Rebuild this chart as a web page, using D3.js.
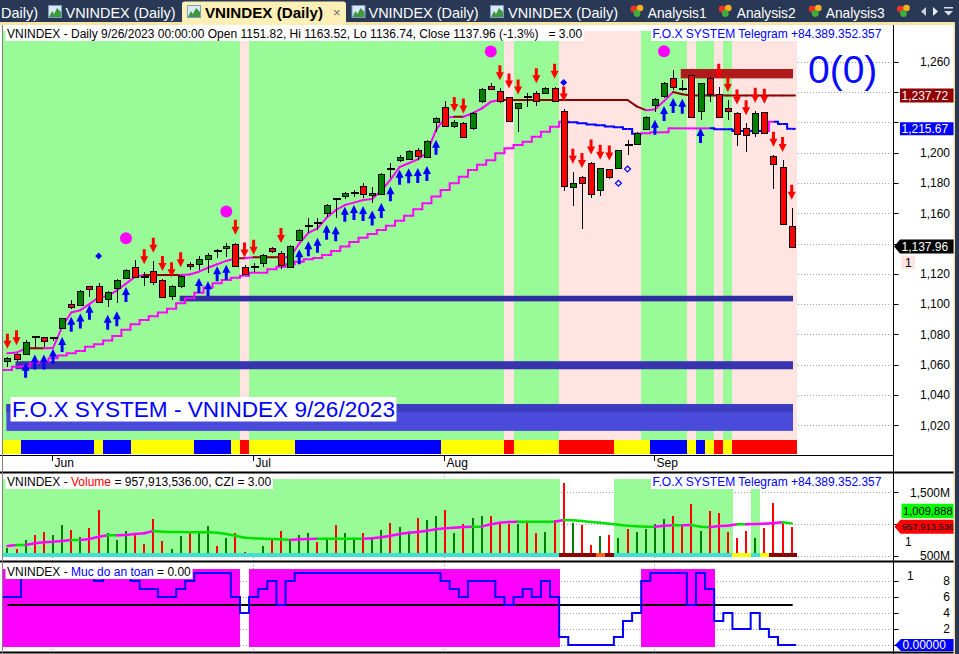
<!DOCTYPE html>
<html>
<head>
<meta charset="utf-8">
<script src="https://cdn.jsdelivr.net/npm/d3@7"></script>
<style>
html,body{margin:0;padding:0;background:#fff;overflow:hidden}
svg{display:block;font-family:"Liberation Sans",Arial,Helvetica,sans-serif}
text{white-space:pre}
</style>
</head>
<body>
<svg id="chart" width="959" height="654"></svg>
<script>
// ================= DATA =================
const dates = ["2023-05-25","2023-05-26","2023-05-29","2023-05-30","2023-05-31",
"2023-06-01","2023-06-02","2023-06-05","2023-06-06","2023-06-07","2023-06-08","2023-06-09","2023-06-12","2023-06-13","2023-06-14","2023-06-15","2023-06-16","2023-06-19","2023-06-20","2023-06-21","2023-06-22","2023-06-23","2023-06-26","2023-06-27","2023-06-28","2023-06-29","2023-06-30",
"2023-07-03","2023-07-04","2023-07-05","2023-07-06","2023-07-07","2023-07-10","2023-07-11","2023-07-12","2023-07-13","2023-07-14","2023-07-17","2023-07-18","2023-07-19","2023-07-20","2023-07-21","2023-07-24","2023-07-25","2023-07-26","2023-07-27","2023-07-28","2023-07-31",
"2023-08-01","2023-08-02","2023-08-03","2023-08-04","2023-08-07","2023-08-08","2023-08-09","2023-08-10","2023-08-11","2023-08-14","2023-08-15","2023-08-16","2023-08-17","2023-08-18","2023-08-21","2023-08-22","2023-08-23","2023-08-24","2023-08-25","2023-08-28","2023-08-29","2023-08-30","2023-08-31",
"2023-09-05","2023-09-06","2023-09-07","2023-09-08","2023-09-11","2023-09-12","2023-09-13","2023-09-14","2023-09-15","2023-09-18","2023-09-19","2023-09-20","2023-09-21","2023-09-22","2023-09-25","2023-09-26"];

const openP = [1062,1067,1067.5,1078.6,1078,1077.8,1084,1099.9,1099.4,1111.8,1111.8,1103.2,1110.4,1117.4,1124.3,1117.8,1121.8,1115.9,1105.3,1112,1126.3,1126.3,1129.8,1135.2,1136.8,1139.7,1124.7,1124.8,1126.9,1136.8,1133.5,1124.7,1142.3,1151.4,1153.5,1160,1169.4,1171.6,1173.4,1178,1171.6,1172.7,1189.2,1195.1,1195.6,1201.7,1197.3,1220.4,1230.3,1217.6,1219.7,1216,1233.6,1244.2,1240.7,1236.5,1229.2,1236.7,1239.5,1239.5,1242.4,1227.7,1177.1,1184.1,1193,1174.9,1189,1189.6,1205.2,1206.1,1216,1231.4,1237.4,1249,1242,1251.2,1227,1249,1238.7,1229.6,1226,1216,1212.7,1226.6,1198,1190.7,1151.82];
const highP = [1065.3,1067.5,1076,1079,1078.5,1078.3,1091,1103,1109,1112.2,1114,1108.5,1116.5,1123,1129.1,1121,1128.6,1116.5,1112.5,1119,1127.5,1131.6,1134,1136.1,1140.6,1140.5,1125.5,1127.3,1133,1137.5,1135,1139,1149.5,1156.6,1156.6,1166,1169.6,1174.3,1175.5,1180,1177,1186.5,1193,1198.4,1201.5,1202.8,1208.5,1223.8,1234,1221.5,1220.5,1226.6,1242.4,1246.2,1242.5,1237,1233,1239.5,1240.5,1243.5,1243.5,1228.5,1187.4,1184.5,1193.5,1190,1189.5,1202,1208.3,1213.5,1224.3,1236,1246.5,1254.5,1248,1251.5,1246,1250,1243.5,1234.7,1226.5,1219.3,1227.7,1227,1198.5,1195.1,1163.52];
const lowP = [1058.7,1062.5,1066.5,1072,1072,1075.8,1083.5,1097,1099,1104.9,1101,1098.3,1100.5,1116.5,1117,1112.1,1112.6,1104,1102.7,1110.4,1122.5,1122.5,1120.3,1130.2,1131.3,1125,1119.9,1121.4,1124.3,1134,1123,1124,1141.5,1146.7,1149,1157.7,1156.6,1169.5,1170.7,1170,1167,1172,1183,1194,1195,1195.1,1196.5,1213.8,1217,1216,1209.5,1215,1233,1241.8,1232.5,1220,1213.8,1229.9,1230.8,1239,1233.6,1174.9,1165,1149.6,1169.8,1171.4,1182.5,1189,1198.4,1205.5,1215,1227,1236,1241.3,1240.9,1223,1221.5,1233.6,1223.3,1221.5,1204.4,1200.6,1210.5,1212,1175.8,1152.5,1136.74];
const closeP = [1064.2,1063.7,1075.2,1078.3,1075.2,1078.1,1090.6,1097.9,1108.6,1110,1101.2,1107.8,1115.9,1122.5,1117.4,1117.5,1114.8,1104.9,1112,1118.5,1124.7,1129.8,1132.4,1134.8,1138.4,1125.4,1120.3,1124.6,1132.4,1134.8,1125.8,1138.4,1149,1151.8,1153.1,1165.4,1169,1173.6,1173.8,1172.7,1173.1,1185.9,1188.8,1196.9,1201,1197.8,1207.7,1223,1217.6,1220.4,1210.5,1226,1241.8,1242.4,1234,1220.9,1232.5,1236.3,1234,1242.8,1234,1178,1179.7,1180.4,1172.5,1189.6,1183.7,1201.7,1204.8,1213.1,1223.7,1235.2,1245.7,1243.1,1241.6,1223.7,1245.7,1238.7,1223.7,1227.7,1212.1,1211.6,1226,1212.7,1193,1153.3,1137.96];

// volume, millions of shares
const volumeM = [627,606,748,826,879,826,984,905,795,937,1221,863,753,890,863,685,1079,732,606,811,853,869,968,653,784,863,564,511,653,784,890,737,826,863,721,784,989,863,758,863,784,905,1011,947,863,1095,1063,1126,1221,863,995,1095,1131,1131,1021,1005,1000,1047,863,879,1063,1652,1021,984,669,816,826,779,926,879,916,1000,1084,1126,984,1321,895,1205,1178,874,779,890,779,937,1331,1011,957.913536];
const volumeMA = [653,669,669,695,711,721,732,748,748,763,800,821,821,826,842,853,890,879,874,874,869,869,869,863,842,816,784,774,769,763,758,748,758,763,769,769,769,769,769,769,774,790,816,842,863,874,895,916,932,942,953,958,958,995,1021,1032,1037,1037,1037,1037,1037,1063,1058,1047,1032,1021,1005,989,974,963,958,958,974,979,979,984,958,947,968,974,995,995,1000,1005,1016,1026,1009.888];

const upperLine = [1067.5,1068,1070.8,1070.8,1070.8,1071,1085,1094.5,1096,1100,1104.5,1105.3,1109,1113.5,1118,1119.2,1119.2,1119.2,1119.2,1119.2,1119.5,1121.4,1124,1126.3,1128.5,1130.2,1130.2,1130.9,1130.9,1130.9,1130.9,1131,1140,1147,1150,1157,1162,1165.4,1167,1168.7,1169.4,1175,1182,1190.5,1193,1195.5,1200,1215,1223,1223.7,1223.7,1226,1229,1233.5,1234.7,1234.7,1234.7,1234.7,1234.7,1234.7,1234.7,1234.7,1234.7,1234.7,1234.7,1234.7,1234.7,1234.7,1234.7,1230.5,1228,1228.5,1234,1240,1238.5,1237.72,1237.72,1237.72,1237.72,1237.72,1237.72,1237.72,1237.72,1237.72,1237.72,1237.72,1237.72];
const lowerLine = [1056.5,1058.7,1059,1061.3,1062,1064.2,1066,1067.5,1069,1071.9,1073.5,1076,1079,1083,1086.7,1089.5,1092,1094.5,1097,1100.5,1103.8,1107.5,1111,1113.7,1115.9,1117.4,1118.7,1120.7,1120.7,1123,1124.7,1126.3,1128,1129.6,1130.5,1132.4,1135,1138,1141,1143.8,1146.3,1148.9,1151.7,1155,1158.3,1162.6,1166.5,1171,1175.3,1179.7,1184.1,1188.5,1192,1195,1199.5,1202.8,1205,1207.2,1210.5,1213.8,1217.1,1220.4,1220,1219.3,1218.6,1218,1217.3,1216.7,1215.5,1212.5,1212.7,1213.4,1213.4,1216,1216,1216,1216,1216,1215.4,1215.4,1214.3,1214.3,1214.3,1214.3,1220.4,1218.9,1215.67];

// "Muc do an toan" (safety level)
const safety = [6,6,9,9,9,9,9,9,9,9,8,9,9,9,8,7,7,6,6,7,8,9,9,9,9,6,4,6,7,8,5,8,9,9,9,9,9,9,9,9,9,9,9,9,9,9,9,9,8,7,6,8,8,8,6,5,6,7,6,8,6,1,0,0,0,0,0,1,3,4,8,9,9,9,9,5,9,7,3,4,2,2,4,2,1,0,0];

// per-bar states: G = uptrend, P = caution
const trendState = "GGGGGGGGGGGGGGGGGGGGGGGGGGPGGGGGGGGGGGGGGGGGGGGGGGGGGGGPGGGGGPPPPPPPPPGGGGGPGGPGPPPPPPP";
// Y = neutral, B = strong, R = weak
const regimeState = "YYBBBBBBBBYBBBYYYYYYYBBBBYRYYYYYBBBBBBBBBBBBBBBBYYYYYYYRYYYYYRRRRRRYYYYBBBBYBYRYRRRRRRR";
// volume pane: G = active, W = none
const volState = "GGGGGGGGGGGGGGGGGGGGGGGGGGGGGGGGGGGGGGGGGGGGGGGGGGGGGGGGGGGGGWWWWWWGGGGGGGGGGGGGWWGWWWW";
// C = normal, D = distribution, O = heavy, Y = warning
const flowState = "CCCCCCCCCCCCCCCCCCCCCCCCCCCCCCCCCCCCCCCCCCCCCCCCCCCCCCCCCCCCCDDDDODCCCCCCCCCCCCCYYCYDDD";

const sellSignals = [0,1,15,16,17,18,19,25,26,27,30,49,50,54,55,56,58,60,61,62,63,64,65,66,78,79,80,81,82,83,84,85,86];
const buySignals = [2,3,4,5,6,7,8,9,11,12,13,21,22,23,24,32,33,34,35,36,37,38,39,40,41,42,43,44,45,46,47,71,72,73,74,76];
const bigDots = [13,24,53,72];
const smallDiamonds = [10,61];
const hollowDiamonds = [67,68];

// price zones: [low, high, first bar]
const supportZones = [[1101.8,1105.5,19],[1057,1062.3,1],[1016.3,1034,0],[1028.8,1034,0]];
const resistanceZones = [[1249,1255.2,74]];

const priceTicks = [1020,1040,1060,1080,1100,1120,1140,1160,1180,1200,1220,1240,1260];
const volTicks = [500,1000,1500];
const safetyTicks = [0,2,4,6,8];
const safetyThreshold = 5;
const signalText = "0(0)";
const brandText = "F.O.X SYSTEM";
const contactText = "F.O.X SYSTEM Telegram +84.389.352.357";
const ticker = "VNINDEX";
const tabItems = ["Daily)","VNINDEX (Daily)","VNINDEX (Daily)","VNINDEX (Daily)","VNINDEX (Daily)"];
const analysisTabs = ["Analysis1","Analysis2","Analysis3"];

// ================= DRAW =================
const svg = d3.select("#chart");
const W = 959, H = 654, N = closeP.length;
const x = d3.scaleLinear().domain([0, N-1]).range([7.4, 791.7]);
const bw = x(1) - x(0);
const yP = d3.scaleLinear().domain([1020, 1260]).range([425.3, 61.7]);
const yV = d3.scaleLinear().domain([500, 1500]).range([555.7, 492.3]);
const yS = d3.scaleLinear().domain([0, 8]).range([645, 581]);
const AXX = 893.5;
const COL = {green:"#98fb98", pink:"#ffe4e1", mag:"#ff00ff", dred:"#8b0000", blue:"#0000ff", red:"#ff0000", cgreen:"#008000"};
const fmt2 = d3.format(",.2f"), fmtInt = d3.format(",");
const parse = d3.timeParse("%Y-%m-%d");
const monthIdx = d3.range(1, N).filter(i => dates[i].slice(5,7) !== dates[i-1].slice(5,7));
const L = N - 1;

svg.append("rect").attr("width", W).attr("height", H).attr("fill", "#fff");

function hline(g, x1, x2, y, color, dash, w) {
  return g.append("line").attr("x1", x1).attr("x2", x2).attr("y1", y).attr("y2", y)
    .attr("stroke", color).attr("stroke-width", w || 1).attr("stroke-dasharray", dash || null);
}
function vline(g, xx, y1, y2, color, dash, w) {
  return g.append("line").attr("x1", xx).attr("x2", xx).attr("y1", y1).attr("y2", y2)
    .attr("stroke", color).attr("stroke-width", w || 1).attr("stroke-dasharray", dash || null);
}
function boxText(g, x0, base, parts, size) {
  const grp = g.append("g");
  const r = grp.append("rect").attr("fill", "#fff");
  const t = grp.append("text").attr("x", x0).attr("y", base).attr("font-size", size || 12);
  parts.forEach(p => t.append("tspan").attr("fill", p[1]).text(p[0]));
  const bb = t.node().getBBox();
  r.attr("x", bb.x - 1.5).attr("y", bb.y + 0.5).attr("width", bb.width + 3).attr("height", bb.height - 0.5);
  return grp;
}
function arrowPath(cx, tip, s) {
  return `M${cx},${tip} L${cx-4},${tip - 8*s} L${cx-1.5},${tip - 8*s} L${cx-1.5},${tip - 15*s} L${cx+1.5},${tip - 15*s} L${cx+1.5},${tip - 8*s} L${cx+4},${tip - 8*s} Z`;
}

// ---------- MAIN PANE ----------
const main = svg.append("g");
priceTicks.forEach(t => hline(main, 3, AXX - 2, Math.round(yP(t)) + 0.5, "#a0a0a0", "1,2"));
main.selectAll(null).data(d3.range(N)).join("rect")
  .attr("x", i => x(i) - bw/2).attr("width", bw + 0.5).attr("y", 31).attr("height", 409)
  .attr("fill", i => trendState[i] === "P" ? COL.pink : COL.green).attr("shape-rendering", "crispEdges");
const regimeColor = {Y:"#ffff00", B:"#0000ff", R:"#ff0000"};
main.selectAll(null).data(d3.range(N)).join("rect")
  .attr("x", i => x(i) - bw/2).attr("width", bw + 0.5).attr("y", 440).attr("height", 14)
  .attr("fill", i => regimeColor[regimeState[i]]).attr("shape-rendering", "crispEdges");

const zoneColors = ["#2e2ea0", "#3834b0", "#4b4bdb", "#3c3cc0"];
supportZones.forEach((z, k) => {
  main.append("rect").attr("x", x(z[2]) - 1).attr("width", x(N-1) + 1.3 - (x(z[2]) - 1))
    .attr("y", yP(z[1])).attr("height", yP(z[0]) - yP(z[1])).attr("fill", zoneColors[k]);
});
resistanceZones.forEach(z => {
  main.append("rect").attr("x", x(z[2]) - 1.5).attr("width", x(N-1) + 1.3 - (x(z[2]) - 1.5))
    .attr("y", yP(z[1])).attr("height", yP(z[0]) - yP(z[1])).attr("fill", "#b11a1a");
});

// lower trailing line (staircase)
{
  let col = COL.mag;
  hline(main, 3, x(0), yP(lowerLine[0]), col, null, 2);
  for (let i = 1; i < N; i++) {
    if (lowerLine[i] > lowerLine[i-1]) col = COL.mag; else if (lowerLine[i] < lowerLine[i-1]) col = COL.blue;
    const xm = (x(i-1) + x(i)) / 2;
    main.append("path").attr("d", `M${x(i-1)},${yP(lowerLine[i-1])} H${xm} V${yP(lowerLine[i])} H${x(i)}`)
      .attr("fill", "none").attr("stroke", col).attr("stroke-width", 2);
  }
  hline(main, x(N-1), x(N-1) + 4, yP(lowerLine[N-1]), col, null, 2);
}
// upper line
for (let i = 1; i < N; i++) {
  const col = upperLine[i] > upperLine[i-1] ? COL.mag : COL.dred;
  main.append("line").attr("x1", x(i-1)).attr("x2", x(i)).attr("y1", yP(upperLine[i-1])).attr("y2", yP(upperLine[i]))
    .attr("stroke", col).attr("stroke-width", 2).attr("stroke-linecap", "round");
}
hline(main, x(N-1), x(N-1) + 4, yP(upperLine[N-1]), COL.dred, null, 2);

// candles
const cg = main.append("g").attr("shape-rendering", "crispEdges");
d3.range(N).forEach(i => {
  const cx = Math.round(x(i)) + 0.5;
  vline(cg, cx, yP(highP[i]), yP(lowP[i]), "#000");
  const yt = yP(Math.max(openP[i], closeP[i])), yb = yP(Math.min(openP[i], closeP[i]));
  if (yb - yt < 2) {
    cg.append("rect").attr("x", cx - 4).attr("y", Math.round((yt + yb)/2) - 1).attr("width", 8).attr("height", 2).attr("fill", "#000");
  } else {
    cg.append("rect").attr("x", cx - 3).attr("y", Math.round(yt) + 0.5).attr("width", 6).attr("height", Math.round(yb - yt))
      .attr("fill", closeP[i] >= openP[i] ? COL.cgreen : COL.red).attr("stroke", "#000");
  }
});

// markers
sellSignals.forEach(i => main.append("path").attr("d", arrowPath(x(i), yP(highP[i]) - 8, 1)).attr("fill", COL.red));
buySignals.forEach(i => main.append("path").attr("d", arrowPath(x(i), yP(lowP[i]) + 8, -1)).attr("fill", COL.blue));
bigDots.forEach(i => main.append("circle").attr("cx", x(i)).attr("cy", yP(highP[i]) - 31).attr("r", 6).attr("fill", COL.mag));
smallDiamonds.forEach(i => { const cx = x(i), cy = yP(highP[i]) - 27;
  main.append("path").attr("d", `M${cx},${cy-3.5} L${cx+3.5},${cy} L${cx},${cy+3.5} L${cx-3.5},${cy} Z`).attr("fill", COL.blue); });
hollowDiamonds.forEach(i => { const cx = x(i), cy = yP(lowP[i]) + 14;
  main.append("path").attr("d", `M${cx},${cy-3} L${cx+3},${cy} L${cx},${cy+3} L${cx-3},${cy} Z`).attr("fill", "none").attr("stroke", COL.blue).attr("stroke-width", 1.2); });

// titles
const pct = (closeP[L] / closeP[L-1] - 1) * 100;
const dl = parse(dates[L]);
const dstr = `${dl.getMonth()+1}/${dl.getDate()}/${dl.getFullYear()}`;
boxText(main, 7, 38, [[`${ticker} - Daily ${dstr} 00:00:00 Open ${openP[L].toFixed(2)}, Hi ${highP[L].toFixed(2)}, Lo ${lowP[L].toFixed(2)}, Close ${closeP[L].toFixed(2)} (${pct.toFixed(1)}%)   = 3.00`, "#000"]]);
boxText(main, 652.5, 38, [[contactText, "#0000ff"]]);
boxText(main, 12, 416.5, [[`${brandText} - ${ticker} ${dstr}`, "#0000ff"]], 22.6);

// x axis
hline(svg, 0, AXX, 455.5, "#000");
monthIdx.forEach(i => {
  const mx = Math.round(x(i)) - 0.5;
  vline(svg, mx, 455, 461, "#000");
  svg.append("text").attr("x", mx + 2).attr("y", 467).attr("font-size", 12).attr("fill", "#000").text(d3.timeFormat("%b")(parse(dates[i])));
});

// right axis
const mainBoxes = [yP(upperLine[L]), yP(lowerLine[L]), yP(closeP[L])];
priceTicks.forEach(t => {
  hline(svg, AXX, AXX + 5, Math.round(yP(t)) + 0.5, "#000");
  if (mainBoxes.some(b => Math.abs(b - yP(t)) < 13)) return;
  svg.append("text").attr("x", 950).attr("y", yP(t)).attr("dy", "0.36em").attr("text-anchor", "end").attr("font-size", 12).text(fmtInt(t));
});
svg.append("text").attr("x", 808).attr("y", 83).attr("font-size", 39).attr("fill", "#0a0aff").text(signalText);
function valueBox(yc, h, fill, txt, tcol, arrow, x0, fs) {
  const g = svg.append("g");
  const top = yc - h/2, bot = yc + h/2;
  const left = x0 || 900;
  const d = arrow ? `M${left-6},${yc} L${left},${top} H955 V${bot} H${left} Z` : `M${left},${top} H955 V${bot} H${left} Z`;
  g.append("path").attr("d", d).attr("fill", fill);
  g.append("text").attr("x", left + 1.5).attr("y", yc).attr("dy", "0.36em").attr("font-size", fs || 12).attr("fill", tcol).text(txt);
}
valueBox(yP(upperLine[L]), 14, "#900000", fmt2(upperLine[L]), "#fff", false);
valueBox(yP(lowerLine[L]), 13, "#0000ff", fmt2(lowerLine[L]), "#fff", false);
valueBox(yP(closeP[L]), 14, "#000", fmt2(closeP[L]), "#fff", true);
svg.append("rect").attr("x", 901.5).attr("y", 256).attr("width", 13.5).attr("height", 13).attr("fill", COL.pink);
svg.append("text").attr("x", 905).attr("y", 262.5).attr("dy", "0.36em").attr("font-size", 12).text("1");

// ---------- VOLUME PANE ----------
const vol = svg.append("g");
monthIdx.forEach(i => vline(vol, Math.round(x(i)) - 0.5, 473, 561, "#a0a0a0", "1,2"));
volTicks.forEach(t => hline(vol, 3, AXX - 2, Math.round(yV(t)) + 0.5, "#a0a0a0", "1,2"));
vol.selectAll(null).data(d3.range(N).filter(i => volState[i] === "G")).join("rect")
  .attr("x", i => x(i) - bw/2).attr("width", bw + 0.5).attr("y", 479).attr("height", 74).attr("fill", COL.green).attr("shape-rendering", "crispEdges");
vol.selectAll(null).data(d3.range(N)).join("rect")
  .attr("x", i => Math.round(x(i)) - 1).attr("width", 2).attr("y", i => yV(volumeM[i])).attr("height", i => 553 - yV(volumeM[i]))
  .attr("fill", i => closeP[i] >= openP[i] ? COL.cgreen : COL.red).attr("shape-rendering", "crispEdges");
for (let i = 1; i < N; i++) {
  vol.append("line").attr("x1", x(i-1)).attr("x2", x(i)).attr("y1", yV(volumeMA[i-1])).attr("y2", yV(volumeMA[i]))
    .attr("stroke", volumeMA[i] > volumeMA[i-1] ? COL.mag : "#00e000").attr("stroke-width", 2.5).attr("stroke-linecap", "round");
}
const flowColor = {C:"#40e0d0", D:"#8b0000", O:"#ff6020", Y:"#ffff00"};
vol.selectAll(null).data(d3.range(N)).join("rect")
  .attr("x", i => x(i) - bw/2).attr("width", bw + 0.5).attr("y", 553).attr("height", 4)
  .attr("fill", i => flowColor[flowState[i]]).attr("shape-rendering", "crispEdges");
boxText(vol, 7, 486, [[`${ticker} - `, "#000"], ["Volume", "#ff0000"], [` = ${d3.format(",.2f")(volumeM[L] * 1e6)}, CZI = 3.00`, "#000"]]);
boxText(vol, 652.5, 486, [[contactText, "#0000ff"]]);
const volBoxes = [511, yV(volumeM[L])];
volTicks.forEach(t => {
  hline(svg, AXX, AXX + 5, Math.round(yV(t)) + 0.5, "#000");
  if (volBoxes.some(b => Math.abs(b - yV(t)) < 12)) return;
  svg.append("text").attr("x", 950).attr("y", yV(t)).attr("dy", "0.36em").attr("text-anchor", "end").attr("font-size", 12).text(fmtInt(t) + "M");
});
valueBox(511, 14.5, "#00ff00", fmtInt(Math.round(volumeMA[L] * 1000)), "#000", false, 901.5, 11.2);
valueBox(yV(volumeM[L]), 14, "#ff0000", fmtInt(Math.round(volumeM[L] * 1e6)), "#000", true, 900.5, 9.4);
svg.append("text").attr("x", 905).attr("y", 542).attr("dy", "0.36em").attr("font-size", 12).text("1");

// ---------- SAFETY PANE ----------
const sp = svg.append("g");
monthIdx.forEach(i => vline(sp, Math.round(x(i)) - 0.5, 562, 652, "#a0a0a0", "1,2"));
safetyTicks.forEach(t => hline(sp, 3, AXX - 2, Math.round(yS(t)) + 0.5, "#a0a0a0", "1,2"));
sp.selectAll(null).data(d3.range(N).filter(i => safety[i] >= safetyThreshold)).join("rect")
  .attr("x", i => x(i) - bw/2).attr("width", bw + 0.5).attr("y", yS(9.5)).attr("height", yS(-0.2) - yS(9.5))
  .attr("fill", COL.mag).attr("shape-rendering", "crispEdges");
hline(sp, x(0), x(N-1) + 1, yS(safetyThreshold), "#000", null, 2);
const spts = [[x(0) - bw/2, safety[0]]].concat(d3.range(N).map(i => [x(i), safety[i]])).concat([[x(N-1) + bw/2, safety[N-1]]]);
sp.append("path").attr("d", d3.line().x(d => d[0]).y(d => yS(d[1])).curve(d3.curveStep)(spts))
  .attr("fill", "none").attr("stroke", COL.blue).attr("stroke-width", 2);
boxText(sp, 7, 576, [[`${ticker} - `, "#000"], ["Muc do an toan", "#0000ff"], [` = ${safety[L].toFixed(2)}`, "#000"]]);
const spBoxes = [yS(safety[L])];
safetyTicks.forEach(t => {
  hline(svg, AXX, AXX + 5, Math.round(yS(t)) + 0.5, "#000");
  if (spBoxes.some(b => Math.abs(b - yS(t)) < 10)) return;
  svg.append("text").attr("x", 950).attr("y", yS(t)).attr("dy", "0.36em").attr("text-anchor", "end").attr("font-size", 12).text(t);
});
svg.append("text").attr("x", 907).attr("y", 576).attr("dy", "0.36em").attr("font-size", 12).text("1");
valueBox(yS(safety[L]), 12, "#0000ff", safety[L].toFixed(5), "#fff", true, 901);

// ---------- FRAME ----------
hline(svg, 0, W, 472.5, "#000", null, 2);
hline(svg, 0, W, 561.5, "#000", null, 2);
hline(svg, 0, W, 652.5, "#000", null, 2);
vline(svg, AXX, 25, H, "#000");
vline(svg, 2.5, 25, H, "#808080");
svg.append("rect").attr("x", 953.5).attr("y", 22).attr("width", 1.5).attr("height", H).attr("fill", "#f3dfa0");
svg.append("rect").attr("x", 955).attr("y", 0).attr("width", 4).attr("height", H).attr("fill", "#293955");

// ---------- TAB BAR ----------
const tb = svg.append("g");
tb.append("rect").attr("width", W).attr("height", 23).attr("fill", "#293955");
tb.append("rect").attr("y", 22).attr("width", 955).attr("height", 3).attr("fill", "#f5e4a6");
tb.append("path").attr("d", "M182,25 V4 Q182,1.5 185,1.5 H343 Q346,1.5 346,4 V25 Z").attr("fill", "#fdefb6");
function chartIcon(ix, iy) {
  tb.append("rect").attr("x", ix + 0.5).attr("y", iy + 0.5).attr("width", 13).attr("height", 12).attr("fill", "#dbe8f7").attr("stroke", "#7d9bc4");
  tb.append("path").attr("d", `M${ix+1},${iy+12} L${ix+4},${iy+6} L${ix+6},${iy+9} L${ix+9},${iy+3} L${ix+13},${iy+7} V${iy+12} Z`).attr("fill", "#3c9a3c");
}
function gemIcon(ix, iy) {
  tb.append("circle").attr("cx", ix + 4).attr("cy", iy + 5).attr("r", 3.6).attr("fill", "#e8342a");
  tb.append("circle").attr("cx", ix + 10).attr("cy", iy + 4).attr("r", 3.3).attr("fill", "#f5b21e");
  tb.append("circle").attr("cx", ix + 7).attr("cy", iy + 9.5).attr("r", 3.4).attr("fill", "#3fae3a");
}
const tabSpec = [[null, 1, false, 37], [48, 65.5, false, 110], [187, 205, true, 118], [351.5, 368.5, false, 110], [490, 508, false, 110]];
tabSpec.forEach((s, k) => {
  if (s[0] !== null) chartIcon(s[0], 5);
  tb.append("text").attr("x", s[1]).attr("y", 17.5).attr("font-size", 14.3).attr("font-weight", s[2] ? "bold" : "normal")
    .attr("fill", s[2] ? "#000" : "#fff").attr("textLength", s[3]).attr("lengthAdjust", "spacingAndGlyphs").text(tabItems[k]);
});
tb.append("text").attr("x", 333).attr("y", 16.5).attr("font-size", 13).attr("fill", "#6d6d6d").text("×");
[[630, 647.7], [718.3, 736.7], [808.3, 825.7]].forEach((s, k) => {
  gemIcon(s[0], 4);
  tb.append("text").attr("x", s[1]).attr("y", 17.5).attr("font-size", 14.3).attr("fill", "#fff").attr("textLength", 59).attr("lengthAdjust", "spacingAndGlyphs").text(analysisTabs[k]);
});
gemIcon(896.5, 4);
tb.append("path").attr("d", "M921,11.5 L926,7 V16 Z").attr("fill", "#c9ced8");
tb.append("path").attr("d", "M933,7 L938,11.5 L933,16 Z").attr("fill", "#e8ebf0");
tb.append("rect").attr("x", 944).attr("y", 7).attr("width", 9).attr("height", 1.5).attr("fill", "#d8dce4");
tb.append("path").attr("d", "M944,11 H953 L948.5,15.5 Z").attr("fill", "#d8dce4");
</script>
</body>
</html>
